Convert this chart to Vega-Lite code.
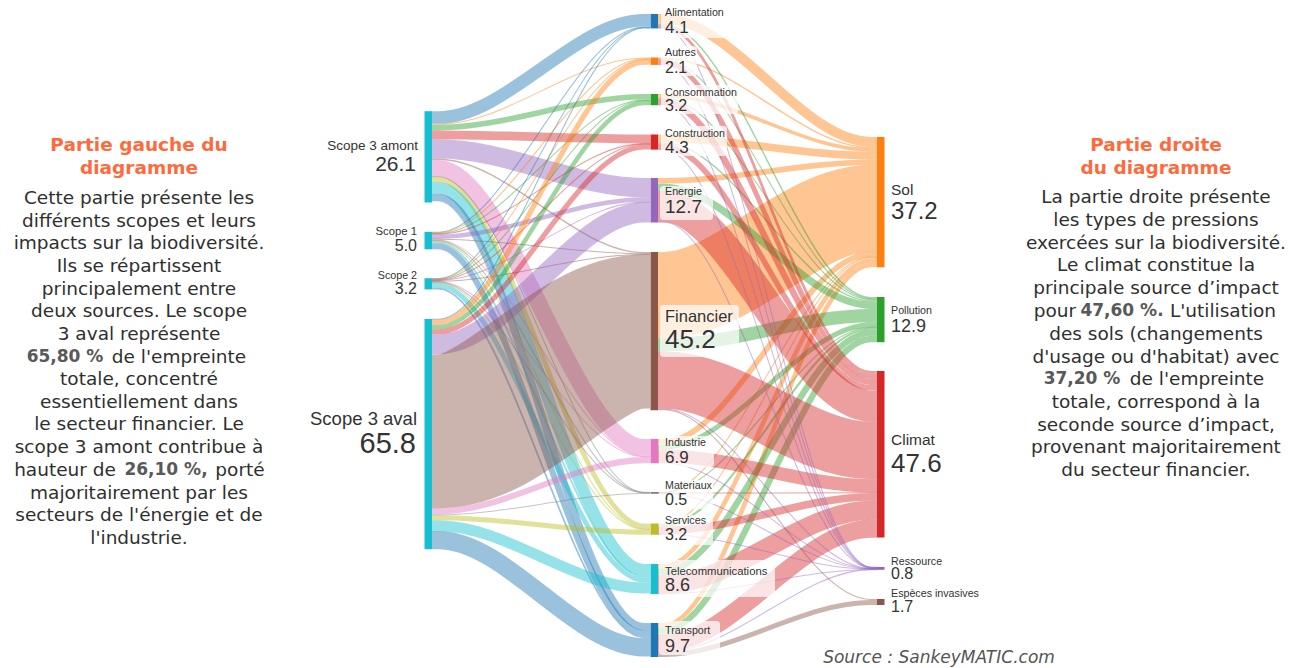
{"$schema":"https://vega.github.io/schema/vega-lite/v6.json","width":1300,"height":668,"padding":0,"autosize":"none","background":"white","config":{"view":{"stroke":null}},
"datasets":{
"links":[
{"s":"Amont","t":"Alim","v":3.6,"x":432,"y":117.5},{"s":"Amont","t":"Alim","v":3.6,"x":438,"y":117.5},{"s":"Amont","t":"Alim","v":3.6,"x":644,"y":20.3},{"s":"Amont","t":"Alim","v":3.6,"x":650,"y":20.3},
{"s":"Amont","t":"Autres","v":0.3,"x":432,"y":124.3},{"s":"Amont","t":"Autres","v":0.3,"x":438,"y":124.3},{"s":"Amont","t":"Autres","v":0.3,"x":644,"y":58},{"s":"Amont","t":"Autres","v":0.3,"x":650,"y":58},
{"s":"Amont","t":"Conso","v":1.6,"x":432,"y":127.6},{"s":"Amont","t":"Conso","v":1.6,"x":438,"y":127.6},{"s":"Amont","t":"Conso","v":1.6,"x":644,"y":96.8},{"s":"Amont","t":"Conso","v":1.6,"x":650,"y":96.8},
{"s":"Amont","t":"Constr","v":2.5,"x":432,"y":134.8},{"s":"Amont","t":"Constr","v":2.5,"x":438,"y":134.8},{"s":"Amont","t":"Constr","v":2.5,"x":644,"y":138.9},{"s":"Amont","t":"Constr","v":2.5,"x":650,"y":138.9},
{"s":"Amont","t":"Energie","v":5.5,"x":432,"y":148.8},{"s":"Amont","t":"Energie","v":5.5,"x":438,"y":148.8},{"s":"Amont","t":"Energie","v":5.5,"x":644,"y":187.6},{"s":"Amont","t":"Energie","v":5.5,"x":650,"y":187.6},
{"s":"Amont","t":"Fin","v":0.4,"x":432,"y":159.2},{"s":"Amont","t":"Fin","v":0.4,"x":438,"y":159.2},{"s":"Amont","t":"Fin","v":0.4,"x":644,"y":252.7},{"s":"Amont","t":"Fin","v":0.4,"x":650,"y":252.7},
{"s":"Amont","t":"Indus","v":4.8,"x":432,"y":168.3},{"s":"Amont","t":"Indus","v":4.8,"x":438,"y":168.3},{"s":"Amont","t":"Indus","v":4.8,"x":644,"y":447.4},{"s":"Amont","t":"Indus","v":4.8,"x":650,"y":447.4},
{"s":"Amont","t":"Mat","v":0.3,"x":432,"y":176.8},{"s":"Amont","t":"Mat","v":0.3,"x":438,"y":176.8},{"s":"Amont","t":"Mat","v":0.3,"x":644,"y":492.2},{"s":"Amont","t":"Mat","v":0.3,"x":650,"y":492.2},
{"s":"Amont","t":"Serv","v":1.4,"x":432,"y":179.5},{"s":"Amont","t":"Serv","v":1.4,"x":438,"y":179.5},{"s":"Amont","t":"Serv","v":1.4,"x":644,"y":526},{"s":"Amont","t":"Serv","v":1.4,"x":650,"y":526},
{"s":"Amont","t":"Tele","v":3.4,"x":432,"y":187.9},{"s":"Amont","t":"Tele","v":3.4,"x":438,"y":187.9},{"s":"Amont","t":"Tele","v":3.4,"x":644,"y":570},{"s":"Amont","t":"Tele","v":3.4,"x":650,"y":570},
{"s":"Amont","t":"Trans","v":2.1,"x":432,"y":197.5},{"s":"Amont","t":"Trans","v":2.1,"x":438,"y":197.5},{"s":"Amont","t":"Trans","v":2.1,"x":644,"y":626.7},{"s":"Amont","t":"Trans","v":2.1,"x":650,"y":626.7},
{"s":"S1","t":"Alim","v":0.3,"x":432,"y":232.2},{"s":"S1","t":"Alim","v":0.3,"x":438,"y":232.2},{"s":"S1","t":"Alim","v":0.3,"x":644,"y":27},{"s":"S1","t":"Alim","v":0.3,"x":650,"y":27},
{"s":"S1","t":"Autres","v":0.3,"x":432,"y":232.8},{"s":"S1","t":"Autres","v":0.3,"x":438,"y":232.8},{"s":"S1","t":"Autres","v":0.3,"x":644,"y":58.8},{"s":"S1","t":"Autres","v":0.3,"x":650,"y":58.8},
{"s":"S1","t":"Conso","v":0.3,"x":432,"y":233.4},{"s":"S1","t":"Conso","v":0.3,"x":438,"y":233.4},{"s":"S1","t":"Conso","v":0.3,"x":644,"y":100},{"s":"S1","t":"Conso","v":0.3,"x":650,"y":100},
{"s":"S1","t":"Constr","v":0.3,"x":432,"y":234.1},{"s":"S1","t":"Constr","v":0.3,"x":438,"y":234.1},{"s":"S1","t":"Constr","v":0.3,"x":644,"y":143.6},{"s":"S1","t":"Constr","v":0.3,"x":650,"y":143.6},
{"s":"S1","t":"Energie","v":1.3,"x":432,"y":236.7},{"s":"S1","t":"Energie","v":1.3,"x":438,"y":236.7},{"s":"S1","t":"Energie","v":1.3,"x":644,"y":199.5},{"s":"S1","t":"Energie","v":1.3,"x":650,"y":199.5},
{"s":"S1","t":"Fin","v":0.3,"x":432,"y":239.3},{"s":"S1","t":"Fin","v":0.3,"x":438,"y":239.3},{"s":"S1","t":"Fin","v":0.3,"x":644,"y":253.8},{"s":"S1","t":"Fin","v":0.3,"x":650,"y":253.8},
{"s":"S1","t":"Indus","v":0.3,"x":432,"y":240},{"s":"S1","t":"Indus","v":0.3,"x":438,"y":240},{"s":"S1","t":"Indus","v":0.3,"x":644,"y":456.2},{"s":"S1","t":"Indus","v":0.3,"x":650,"y":456.2},
{"s":"S1","t":"Mat","v":0.3,"x":432,"y":240.6},{"s":"S1","t":"Mat","v":0.3,"x":438,"y":240.6},{"s":"S1","t":"Mat","v":0.3,"x":644,"y":492.5},{"s":"S1","t":"Mat","v":0.3,"x":650,"y":492.5},
{"s":"S1","t":"Serv","v":0.3,"x":432,"y":241.1},{"s":"S1","t":"Serv","v":0.3,"x":438,"y":241.1},{"s":"S1","t":"Serv","v":0.3,"x":644,"y":528.8},{"s":"S1","t":"Serv","v":0.3,"x":650,"y":528.8},
{"s":"S1","t":"Tele","v":0.5,"x":432,"y":242.3},{"s":"S1","t":"Tele","v":0.5,"x":438,"y":242.3},{"s":"S1","t":"Tele","v":0.5,"x":644,"y":576.8},{"s":"S1","t":"Tele","v":0.5,"x":650,"y":576.8},
{"s":"S1","t":"Trans","v":1.75,"x":432,"y":246.3},{"s":"S1","t":"Trans","v":1.75,"x":438,"y":246.3},{"s":"S1","t":"Trans","v":1.75,"x":644,"y":633.4},{"s":"S1","t":"Trans","v":1.75,"x":650,"y":633.4},
{"s":"S2","t":"Alim","v":0.3,"x":432,"y":278.5},{"s":"S2","t":"Alim","v":0.3,"x":438,"y":278.5},{"s":"S2","t":"Alim","v":0.3,"x":644,"y":27.6},{"s":"S2","t":"Alim","v":0.3,"x":650,"y":27.6},
{"s":"S2","t":"Autres","v":0.3,"x":432,"y":279},{"s":"S2","t":"Autres","v":0.3,"x":438,"y":279},{"s":"S2","t":"Autres","v":0.3,"x":644,"y":59.4},{"s":"S2","t":"Autres","v":0.3,"x":650,"y":59.4},
{"s":"S2","t":"Conso","v":0.3,"x":432,"y":279.5},{"s":"S2","t":"Conso","v":0.3,"x":438,"y":279.5},{"s":"S2","t":"Conso","v":0.3,"x":644,"y":100.6},{"s":"S2","t":"Conso","v":0.3,"x":650,"y":100.6},
{"s":"S2","t":"Constr","v":0.3,"x":432,"y":280.1},{"s":"S2","t":"Constr","v":0.3,"x":438,"y":280.1},{"s":"S2","t":"Constr","v":0.3,"x":644,"y":144.2},{"s":"S2","t":"Constr","v":0.3,"x":650,"y":144.2},
{"s":"S2","t":"Energie","v":0.3,"x":432,"y":280.6},{"s":"S2","t":"Energie","v":0.3,"x":438,"y":280.6},{"s":"S2","t":"Energie","v":0.3,"x":644,"y":202.1},{"s":"S2","t":"Energie","v":0.3,"x":650,"y":202.1},
{"s":"S2","t":"Fin","v":0.3,"x":432,"y":281.1},{"s":"S2","t":"Fin","v":0.3,"x":438,"y":281.1},{"s":"S2","t":"Fin","v":0.3,"x":644,"y":254.4},{"s":"S2","t":"Fin","v":0.3,"x":650,"y":254.4},
{"s":"S2","t":"Indus","v":0.3,"x":432,"y":281.6},{"s":"S2","t":"Indus","v":0.3,"x":438,"y":281.6},{"s":"S2","t":"Indus","v":0.3,"x":644,"y":456.8},{"s":"S2","t":"Indus","v":0.3,"x":650,"y":456.8},
{"s":"S2","t":"Mat","v":0.3,"x":432,"y":282.1},{"s":"S2","t":"Mat","v":0.3,"x":438,"y":282.1},{"s":"S2","t":"Mat","v":0.3,"x":644,"y":492.9},{"s":"S2","t":"Mat","v":0.3,"x":650,"y":492.9},
{"s":"S2","t":"Serv","v":0.3,"x":432,"y":282.5},{"s":"S2","t":"Serv","v":0.3,"x":438,"y":282.5},{"s":"S2","t":"Serv","v":0.3,"x":644,"y":529.4},{"s":"S2","t":"Serv","v":0.3,"x":650,"y":529.4},
{"s":"S2","t":"Tele","v":1.4,"x":432,"y":285.2},{"s":"S2","t":"Tele","v":1.4,"x":438,"y":285.2},{"s":"S2","t":"Tele","v":1.4,"x":644,"y":580.1},{"s":"S2","t":"Tele","v":1.4,"x":650,"y":580.1},
{"s":"S2","t":"Trans","v":0.5,"x":432,"y":288.5},{"s":"S2","t":"Trans","v":0.5,"x":438,"y":288.5},{"s":"S2","t":"Trans","v":0.5,"x":644,"y":637.4},{"s":"S2","t":"Trans","v":0.5,"x":650,"y":637.4},
{"s":"Aval","t":"Alim","v":0.3,"x":432,"y":319.3},{"s":"Aval","t":"Alim","v":0.3,"x":438,"y":319.3},{"s":"Aval","t":"Alim","v":0.3,"x":644,"y":28.1},{"s":"Aval","t":"Alim","v":0.3,"x":650,"y":28.1},
{"s":"Aval","t":"Autres","v":1.5,"x":432,"y":322.2},{"s":"Aval","t":"Autres","v":1.5,"x":438,"y":322.2},{"s":"Aval","t":"Autres","v":1.5,"x":644,"y":62.2},{"s":"Aval","t":"Autres","v":1.5,"x":650,"y":62.2},
{"s":"Aval","t":"Conso","v":1.25,"x":432,"y":327},{"s":"Aval","t":"Conso","v":1.25,"x":438,"y":327},{"s":"Aval","t":"Conso","v":1.25,"x":644,"y":103},{"s":"Aval","t":"Conso","v":1.25,"x":650,"y":103},
{"s":"Aval","t":"Constr","v":1.45,"x":432,"y":331.7},{"s":"Aval","t":"Constr","v":1.45,"x":438,"y":331.7},{"s":"Aval","t":"Constr","v":1.45,"x":644,"y":147},{"s":"Aval","t":"Constr","v":1.45,"x":650,"y":147},
{"s":"Aval","t":"Energie","v":5.75,"x":432,"y":344.3},{"s":"Aval","t":"Energie","v":5.75,"x":438,"y":344.3},{"s":"Aval","t":"Energie","v":5.75,"x":644,"y":212.4},{"s":"Aval","t":"Energie","v":5.75,"x":650,"y":212.4},
{"s":"Aval","t":"Fin","v":44,"x":432,"y":431.4},{"s":"Aval","t":"Fin","v":44,"x":438,"y":431.4},{"s":"Aval","t":"Fin","v":44,"x":644,"y":331.6},{"s":"Aval","t":"Fin","v":44,"x":650,"y":331.6},
{"s":"Aval","t":"Indus","v":1.75,"x":432,"y":511.4},{"s":"Aval","t":"Indus","v":1.75,"x":438,"y":511.4},{"s":"Aval","t":"Indus","v":1.75,"x":644,"y":460.1},{"s":"Aval","t":"Indus","v":1.75,"x":650,"y":460.1},
{"s":"Aval","t":"Mat","v":0.3,"x":432,"y":514.9},{"s":"Aval","t":"Mat","v":0.3,"x":438,"y":514.9},{"s":"Aval","t":"Mat","v":0.3,"x":644,"y":493.4},{"s":"Aval","t":"Mat","v":0.3,"x":650,"y":493.4},
{"s":"Aval","t":"Serv","v":1.45,"x":432,"y":517.7},{"s":"Aval","t":"Serv","v":1.45,"x":438,"y":517.7},{"s":"Aval","t":"Serv","v":1.45,"x":644,"y":532.2},{"s":"Aval","t":"Serv","v":1.45,"x":650,"y":532.2},
{"s":"Aval","t":"Tele","v":3.1,"x":432,"y":525.7},{"s":"Aval","t":"Tele","v":3.1,"x":438,"y":525.7},{"s":"Aval","t":"Tele","v":3.1,"x":644,"y":588},{"s":"Aval","t":"Tele","v":3.1,"x":650,"y":588},
{"s":"Aval","t":"Trans","v":5.2,"x":432,"y":540.2},{"s":"Aval","t":"Trans","v":5.2,"x":438,"y":540.2},{"s":"Aval","t":"Trans","v":5.2,"x":644,"y":647.3},{"s":"Aval","t":"Trans","v":5.2,"x":650,"y":647.3},
{"s":"Alim","t":"Sol","v":2.8,"x":658,"y":18.9},{"s":"Alim","t":"Sol","v":2.8,"x":664,"y":18.9},{"s":"Alim","t":"Sol","v":2.8,"x":871,"y":141.9},{"s":"Alim","t":"Sol","v":2.8,"x":877,"y":141.9},
{"s":"Autres","t":"Sol","v":0.4,"x":658,"y":58.2},{"s":"Autres","t":"Sol","v":0.4,"x":664,"y":58.2},{"s":"Autres","t":"Sol","v":0.4,"x":871,"y":147.5},{"s":"Autres","t":"Sol","v":0.4,"x":877,"y":147.5},
{"s":"Conso","t":"Sol","v":1,"x":658,"y":95.8},{"s":"Conso","t":"Sol","v":1,"x":664,"y":95.8},{"s":"Conso","t":"Sol","v":1,"x":871,"y":150},{"s":"Conso","t":"Sol","v":1,"x":877,"y":150},
{"s":"Constr","t":"Sol","v":2.2,"x":658,"y":138.4},{"s":"Constr","t":"Sol","v":2.2,"x":664,"y":138.4},{"s":"Constr","t":"Sol","v":2.2,"x":871,"y":155.6},{"s":"Constr","t":"Sol","v":2.2,"x":877,"y":155.6},
{"s":"Energie","t":"Sol","v":1.6,"x":658,"y":180.8},{"s":"Energie","t":"Sol","v":1.6,"x":664,"y":180.8},{"s":"Energie","t":"Sol","v":1.6,"x":871,"y":162.2},{"s":"Energie","t":"Sol","v":1.6,"x":877,"y":162.2},
{"s":"Fin","t":"Sol","v":24.6,"x":658,"y":295.1},{"s":"Fin","t":"Sol","v":24.6,"x":664,"y":295.1},{"s":"Fin","t":"Sol","v":24.6,"x":871,"y":208.1},{"s":"Fin","t":"Sol","v":24.6,"x":877,"y":208.1},
{"s":"Indus","t":"Sol","v":1.6,"x":658,"y":441.8},{"s":"Indus","t":"Sol","v":1.6,"x":664,"y":441.8},{"s":"Indus","t":"Sol","v":1.6,"x":871,"y":253.9},{"s":"Indus","t":"Sol","v":1.6,"x":877,"y":253.9},
{"s":"Mat","t":"Sol","v":0.3,"x":658,"y":492.2},{"s":"Mat","t":"Sol","v":0.3,"x":664,"y":492.2},{"s":"Mat","t":"Sol","v":0.3,"x":871,"y":256.9},{"s":"Mat","t":"Sol","v":0.3,"x":877,"y":256.9},
{"s":"Serv","t":"Sol","v":0.3,"x":658,"y":524},{"s":"Serv","t":"Sol","v":0.3,"x":664,"y":524},{"s":"Serv","t":"Sol","v":0.3,"x":871,"y":257.6},{"s":"Serv","t":"Sol","v":0.3,"x":877,"y":257.6},
{"s":"Tele","t":"Sol","v":1.3,"x":658,"y":566.3},{"s":"Tele","t":"Sol","v":1.3,"x":664,"y":566.3},{"s":"Tele","t":"Sol","v":1.3,"x":871,"y":260.4},{"s":"Tele","t":"Sol","v":1.3,"x":877,"y":260.4},
{"s":"Trans","t":"Sol","v":1.3,"x":658,"y":625.3},{"s":"Trans","t":"Sol","v":1.3,"x":664,"y":625.3},{"s":"Trans","t":"Sol","v":1.3,"x":871,"y":264.9},{"s":"Trans","t":"Sol","v":1.3,"x":877,"y":264.9},
{"s":"Alim","t":"Poll","v":0.4,"x":658,"y":24.5},{"s":"Alim","t":"Poll","v":0.4,"x":664,"y":24.5},{"s":"Alim","t":"Poll","v":0.4,"x":871,"y":297.7},{"s":"Alim","t":"Poll","v":0.4,"x":877,"y":297.7},
{"s":"Autres","t":"Poll","v":0.3,"x":658,"y":59.3},{"s":"Autres","t":"Poll","v":0.3,"x":664,"y":59.3},{"s":"Autres","t":"Poll","v":0.3,"x":871,"y":298.8},{"s":"Autres","t":"Poll","v":0.3,"x":877,"y":298.8},
{"s":"Conso","t":"Poll","v":0.3,"x":658,"y":98},{"s":"Conso","t":"Poll","v":0.3,"x":664,"y":98},{"s":"Conso","t":"Poll","v":0.3,"x":871,"y":299.6},{"s":"Conso","t":"Poll","v":0.3,"x":877,"y":299.6},
{"s":"Constr","t":"Poll","v":0.4,"x":658,"y":142.9},{"s":"Constr","t":"Poll","v":0.4,"x":664,"y":142.9},{"s":"Constr","t":"Poll","v":0.4,"x":871,"y":300.9},{"s":"Constr","t":"Poll","v":0.4,"x":877,"y":300.9},
{"s":"Energie","t":"Poll","v":2.1,"x":658,"y":187.3},{"s":"Energie","t":"Poll","v":2.1,"x":664,"y":187.3},{"s":"Energie","t":"Poll","v":2.1,"x":871,"y":305.2},{"s":"Energie","t":"Poll","v":2.1,"x":877,"y":305.2},
{"s":"Fin","t":"Poll","v":3.8,"x":658,"y":344.8},{"s":"Fin","t":"Poll","v":3.8,"x":664,"y":344.8},{"s":"Fin","t":"Poll","v":3.8,"x":871,"y":315.6},{"s":"Fin","t":"Poll","v":3.8,"x":877,"y":315.6},
{"s":"Indus","t":"Poll","v":1.4,"x":658,"y":447.1},{"s":"Indus","t":"Poll","v":1.4,"x":664,"y":447.1},{"s":"Indus","t":"Poll","v":1.4,"x":871,"y":324.7},{"s":"Indus","t":"Poll","v":1.4,"x":877,"y":324.7},
{"s":"Mat","t":"Poll","v":0.3,"x":658,"y":492.5},{"s":"Mat","t":"Poll","v":0.3,"x":664,"y":492.5},{"s":"Mat","t":"Poll","v":0.3,"x":871,"y":327.3},{"s":"Mat","t":"Poll","v":0.3,"x":877,"y":327.3},
{"s":"Serv","t":"Poll","v":0.6,"x":658,"y":525.6},{"s":"Serv","t":"Poll","v":0.6,"x":664,"y":525.6},{"s":"Serv","t":"Poll","v":0.6,"x":871,"y":328.5},{"s":"Serv","t":"Poll","v":0.6,"x":877,"y":328.5},
{"s":"Tele","t":"Poll","v":1.8,"x":658,"y":571.7},{"s":"Tele","t":"Poll","v":1.8,"x":664,"y":571.7},{"s":"Tele","t":"Poll","v":1.8,"x":871,"y":332.7},{"s":"Tele","t":"Poll","v":1.8,"x":877,"y":332.7},
{"s":"Trans","t":"Poll","v":1.8,"x":658,"y":630.7},{"s":"Trans","t":"Poll","v":1.8,"x":664,"y":630.7},{"s":"Trans","t":"Poll","v":1.8,"x":871,"y":339},{"s":"Trans","t":"Poll","v":1.8,"x":877,"y":339},
{"s":"Alim","t":"Clim","v":0.8,"x":658,"y":26.6},{"s":"Alim","t":"Clim","v":0.8,"x":664,"y":26.6},{"s":"Alim","t":"Clim","v":0.8,"x":871,"y":372.4},{"s":"Alim","t":"Clim","v":0.8,"x":877,"y":372.4},
{"s":"Autres","t":"Clim","v":1.4,"x":658,"y":62.1},{"s":"Autres","t":"Clim","v":1.4,"x":664,"y":62.1},{"s":"Autres","t":"Clim","v":1.4,"x":871,"y":376.3},{"s":"Autres","t":"Clim","v":1.4,"x":877,"y":376.3},
{"s":"Conso","t":"Clim","v":1.8,"x":658,"y":101.7},{"s":"Conso","t":"Clim","v":1.8,"x":664,"y":101.7},{"s":"Conso","t":"Clim","v":1.8,"x":871,"y":381.9},{"s":"Conso","t":"Clim","v":1.8,"x":877,"y":381.9},
{"s":"Constr","t":"Clim","v":1.6,"x":658,"y":146.4},{"s":"Constr","t":"Clim","v":1.6,"x":664,"y":146.4},{"s":"Constr","t":"Clim","v":1.6,"x":871,"y":387.8},{"s":"Constr","t":"Clim","v":1.6,"x":877,"y":387.8},
{"s":"Energie","t":"Clim","v":8.9,"x":658,"y":206.5},{"s":"Energie","t":"Clim","v":8.9,"x":664,"y":206.5},{"s":"Energie","t":"Clim","v":8.9,"x":871,"y":406.2},{"s":"Energie","t":"Clim","v":8.9,"x":877,"y":406.2},
{"s":"Fin","t":"Clim","v":16.4,"x":658,"y":380.1},{"s":"Fin","t":"Clim","v":16.4,"x":664,"y":380.1},{"s":"Fin","t":"Clim","v":16.4,"x":871,"y":450.5},{"s":"Fin","t":"Clim","v":16.4,"x":877,"y":450.5},
{"s":"Indus","t":"Clim","v":3.8,"x":658,"y":456.2},{"s":"Indus","t":"Clim","v":3.8,"x":664,"y":456.2},{"s":"Indus","t":"Clim","v":3.8,"x":871,"y":485.8},{"s":"Indus","t":"Clim","v":3.8,"x":877,"y":485.8},
{"s":"Mat","t":"Clim","v":0.3,"x":658,"y":493},{"s":"Mat","t":"Clim","v":0.3,"x":664,"y":493},{"s":"Mat","t":"Clim","v":0.3,"x":871,"y":492.8},{"s":"Mat","t":"Clim","v":0.3,"x":877,"y":492.8},
{"s":"Serv","t":"Clim","v":2.2,"x":658,"y":530.5},{"s":"Serv","t":"Clim","v":2.2,"x":664,"y":530.5},{"s":"Serv","t":"Clim","v":2.2,"x":871,"y":497},{"s":"Serv","t":"Clim","v":2.2,"x":877,"y":497},
{"s":"Tele","t":"Clim","v":5.4,"x":658,"y":584.3},{"s":"Tele","t":"Clim","v":5.4,"x":664,"y":584.3},{"s":"Tele","t":"Clim","v":5.4,"x":871,"y":510.3},{"s":"Tele","t":"Clim","v":5.4,"x":877,"y":510.3},
{"s":"Trans","t":"Clim","v":5.1,"x":658,"y":642.8},{"s":"Trans","t":"Clim","v":5.1,"x":664,"y":642.8},{"s":"Trans","t":"Clim","v":5.1,"x":871,"y":528.7},{"s":"Trans","t":"Clim","v":5.1,"x":877,"y":528.7},
{"s":"Alim","t":"Res","v":0.3,"x":658,"y":28.2},{"s":"Alim","t":"Res","v":0.3,"x":664,"y":28.2},{"s":"Alim","t":"Res","v":0.3,"x":871,"y":567.1},{"s":"Alim","t":"Res","v":0.3,"x":877,"y":567.1},
{"s":"Autres","t":"Res","v":0.3,"x":658,"y":64.7},{"s":"Autres","t":"Res","v":0.3,"x":664,"y":64.7},{"s":"Autres","t":"Res","v":0.3,"x":871,"y":567.4},{"s":"Autres","t":"Res","v":0.3,"x":877,"y":567.4},
{"s":"Conso","t":"Res","v":0.3,"x":658,"y":105},{"s":"Conso","t":"Res","v":0.3,"x":664,"y":105},{"s":"Conso","t":"Res","v":0.3,"x":871,"y":567.6},{"s":"Conso","t":"Res","v":0.3,"x":877,"y":567.6},
{"s":"Constr","t":"Res","v":0.3,"x":658,"y":149.4},{"s":"Constr","t":"Res","v":0.3,"x":664,"y":149.4},{"s":"Constr","t":"Res","v":0.3,"x":871,"y":567.9},{"s":"Constr","t":"Res","v":0.3,"x":877,"y":567.9},
{"s":"Energie","t":"Res","v":0.3,"x":658,"y":222.3},{"s":"Energie","t":"Res","v":0.3,"x":664,"y":222.3},{"s":"Energie","t":"Res","v":0.3,"x":871,"y":568.1},{"s":"Energie","t":"Res","v":0.3,"x":877,"y":568.1},
{"s":"Fin","t":"Res","v":0.3,"x":658,"y":409},{"s":"Fin","t":"Res","v":0.3,"x":664,"y":409},{"s":"Fin","t":"Res","v":0.3,"x":871,"y":568.4},{"s":"Fin","t":"Res","v":0.3,"x":877,"y":568.4},
{"s":"Indus","t":"Res","v":0.3,"x":658,"y":463},{"s":"Indus","t":"Res","v":0.3,"x":664,"y":463},{"s":"Indus","t":"Res","v":0.3,"x":871,"y":568.6},{"s":"Indus","t":"Res","v":0.3,"x":877,"y":568.6},
{"s":"Mat","t":"Res","v":0.3,"x":658,"y":493.5},{"s":"Mat","t":"Res","v":0.3,"x":664,"y":493.5},{"s":"Mat","t":"Res","v":0.3,"x":871,"y":568.9},{"s":"Mat","t":"Res","v":0.3,"x":877,"y":568.9},
{"s":"Serv","t":"Res","v":0.3,"x":658,"y":534.5},{"s":"Serv","t":"Res","v":0.3,"x":664,"y":534.5},{"s":"Serv","t":"Res","v":0.3,"x":871,"y":569.1},{"s":"Serv","t":"Res","v":0.3,"x":877,"y":569.1},
{"s":"Tele","t":"Res","v":0.3,"x":658,"y":593.9},{"s":"Tele","t":"Res","v":0.3,"x":664,"y":593.9},{"s":"Tele","t":"Res","v":0.3,"x":871,"y":569.4},{"s":"Tele","t":"Res","v":0.3,"x":877,"y":569.4},
{"s":"Trans","t":"Res","v":0.3,"x":658,"y":651.9},{"s":"Trans","t":"Res","v":0.3,"x":664,"y":651.9},{"s":"Trans","t":"Res","v":0.3,"x":871,"y":569.6},{"s":"Trans","t":"Res","v":0.3,"x":877,"y":569.6},
{"s":"Fin","t":"Esp","v":0.3,"x":658,"y":409.7},{"s":"Fin","t":"Esp","v":0.3,"x":664,"y":409.7},{"s":"Fin","t":"Esp","v":0.3,"x":871,"y":599.5},{"s":"Fin","t":"Esp","v":0.3,"x":877,"y":599.5},
{"s":"Trans","t":"Esp","v":1.4,"x":658,"y":654.5},{"s":"Trans","t":"Esp","v":1.4,"x":664,"y":654.5},{"s":"Trans","t":"Esp","v":1.4,"x":871,"y":602.5},{"s":"Trans","t":"Esp","v":1.4,"x":877,"y":602.5}
],
"nodes":[
{"t":"Amont","x":424.5,"x2":432,"y":111.2,"y2":202.5},{"t":"S1","x":424.5,"x2":432,"y":231.8,"y2":249.3},{"t":"S2","x":424.5,"x2":432,"y":278.2,"y2":289.4},{"t":"Aval","x":424.5,"x2":432,"y":319,"y2":549.3},
{"t":"Alim","x":650.5,"x2":658,"y":14,"y2":28.4},{"t":"Autres","x":650.5,"x2":658,"y":57.5,"y2":64.9},{"t":"Conso","x":650.5,"x2":658,"y":94,"y2":105.2},{"t":"Constr","x":650.5,"x2":658,"y":134.5,"y2":149.6},{"t":"Energie","x":650.5,"x2":658,"y":178,"y2":222.5},{"t":"Fin","x":650.5,"x2":658,"y":252,"y2":410.2},{"t":"Indus","x":650.5,"x2":658,"y":439,"y2":463.2},{"t":"Mat","x":650.5,"x2":658,"y":492,"y2":493.8},{"t":"Serv","x":650.5,"x2":658,"y":523.5,"y2":534.7},{"t":"Tele","x":650.5,"x2":658,"y":564,"y2":594.1},{"t":"Trans","x":650.5,"x2":658,"y":623,"y2":657},
{"t":"Sol","x":877,"x2":884.5,"y":137,"y2":267.2},{"t":"Poll","x":877,"x2":884.5,"y":297,"y2":342.2},{"t":"Clim","x":877,"x2":884.5,"y":371,"y2":537.6},{"t":"Res","x":877,"x2":884.5,"y":567,"y2":569.8},{"t":"Esp","x":877,"x2":884.5,"y":599,"y2":605}
],
"boxes":[
{"n":"Alimentation","x":661,"x2":727,"y":3,"y2":38},{"n":"Autres","x":661,"x2":697,"y":46,"y2":76},{"n":"Consommation","x":661,"x2":738,"y":85,"y2":114},{"n":"Construction","x":661,"x2":727,"y":126,"y2":156},{"n":"Energie","x":660,"x2":713,"y":186,"y2":220},{"n":"Financier","x":660,"x2":739,"y":305,"y2":357},{"n":"Industrie","x":659,"x2":714,"y":436,"y2":467},{"n":"Materiaux","x":659,"x2":713,"y":480,"y2":509},{"n":"Services","x":659,"x2":713,"y":515,"y2":545},{"n":"Telecommunications","x":659,"x2":775,"y":560,"y2":597},{"n":"Transport","x":659,"x2":720,"y":621,"y2":655}
],
"labelsLeft":[
{"t":"Scope 3 amont","x":418,"y":150,"f":"c"},{"t":"26.1","x":416,"y":171,"f":"i"},{"t":"Scope 1","x":417,"y":235,"f":"b"},{"t":"5.0","x":417,"y":251,"f":"e"},{"t":"Scope 2","x":417,"y":279,"f":"a"},{"t":"3.2","x":417,"y":294,"f":"e"},{"t":"Scope 3 aval","x":417,"y":425,"f":"m"},{"t":"65.8","x":416,"y":453,"f":"l"}
],
"labelsRight":[
{"t":"Alimentation","x":665,"y":16,"f":"a"},{"t":"4.1","x":665,"y":33,"f":"f"},{"t":"Autres","x":665,"y":56,"f":"a"},{"t":"2.1","x":665,"y":73,"f":"e"},{"t":"Consommation","x":665,"y":95.5,"f":"a"},{"t":"3.2","x":665,"y":110.5,"f":"e"},{"t":"Construction","x":665,"y":137,"f":"a"},{"t":"4.3","x":665,"y":152.5,"f":"f"},{"t":"Energie","x":665,"y":195,"f":"a"},{"t":"12.7","x":665,"y":212.7,"f":"h"},{"t":"Financier","x":665,"y":322,"f":"n"},{"t":"45.2","x":665,"y":347.5,"f":"k"},{"t":"Industrie","x":665,"y":445.7,"f":"a"},{"t":"6.9","x":665,"y":462.7,"f":"f"},{"t":"Materiaux","x":665,"y":489,"f":"a"},{"t":"0.5","x":665,"y":505,"f":"e"},{"t":"Services","x":665,"y":524,"f":"a"},{"t":"3.2","x":665,"y":540,"f":"e"},{"t":"Telecommunications","x":665,"y":575,"f":"b"},{"t":"8.6","x":665,"y":590.7,"f":"g"},{"t":"Transport","x":665,"y":634.3,"f":"a"},{"t":"9.7","x":665,"y":652.3,"f":"g"},
{"t":"Sol","x":891,"y":195,"f":"d"},{"t":"37.2","x":891,"y":219,"f":"j"},{"t":"Pollution","x":891,"y":314,"f":"a"},{"t":"12.9","x":891,"y":332,"f":"g"},{"t":"Climat","x":891,"y":445,"f":"d"},{"t":"47.6","x":891,"y":472,"f":"k"},{"t":"Ressource","x":891,"y":565,"f":"a"},{"t":"0.8","x":891,"y":579,"f":"e"},{"t":"Espèces invasives","x":891,"y":597,"f":"a"},{"t":"1.7","x":891,"y":612,"f":"e"}
],
"body":[
{"t":"Cette partie présente les","x":139,"y":198},{"t":"différents scopes et leurs","x":139,"y":221},{"t":"impacts sur la biodiversité.","x":139,"y":243},{"t":"Ils se répartissent","x":139,"y":266},{"t":"principalement entre","x":139,"y":289},{"t":"deux sources. Le scope","x":139,"y":311},{"t":"3 aval représente","x":139,"y":334},{"t":"de l'empreinte","x":179,"y":357},{"t":"totale, concentré","x":139,"y":379},{"t":"essentiellement dans","x":139,"y":402},{"t":"le secteur financier. Le","x":139,"y":424},{"t":"scope 3 amont contribue à","x":139,"y":447},{"t":"hauteur de","x":65,"y":470},{"t":"porté","x":240,"y":470},{"t":"majoritairement par les","x":139,"y":493},{"t":"secteurs de l'énergie et de","x":139,"y":515},{"t":"l'industrie.","x":139,"y":538},
{"t":"La partie droite présente","x":1156,"y":197},{"t":"les types de pressions","x":1156,"y":220},{"t":"exercées sur la biodiversité.","x":1156,"y":243},{"t":"Le climat constitue la","x":1156,"y":265},{"t":"principale source d’impact","x":1156,"y":288},{"t":"pour","x":1055,"y":311},{"t":"L'utilisation","x":1223,"y":311},{"t":"des sols (changements","x":1156,"y":334},{"t":"d'usage ou d'habitat) avec","x":1156,"y":357},{"t":"de l'empreinte","x":1197,"y":379},{"t":"totale, correspond à la","x":1156,"y":402},{"t":"seconde source d’impact,","x":1156,"y":425},{"t":"provenant majoritairement","x":1156,"y":447},{"t":"du secteur financier.","x":1156,"y":470}
],
"bold":[
{"t":"65,80 %","x":65,"y":357},{"t":"26,10 %,","x":166,"y":470},{"t":"47,60 %.","x":1122,"y":311},{"t":"37,20 %","x":1082,"y":379}
],
"heads":[
{"t":"Partie gauche du","x":139,"y":145},{"t":"diagramme","x":139,"y":168},{"t":"Partie droite","x":1156,"y":145},{"t":"du diagramme","x":1156,"y":168}
],
"source":[{"t":"Source : SankeyMATIC.com","x":939,"y":658}]
},
"encoding":{"x":{"field":"x","type":"quantitative","scale":{"domain":[0,1300],"nice":false,"zero":false},"axis":null},"y":{"field":"y","type":"quantitative","scale":{"domain":[668,0],"nice":false,"zero":false},"axis":null}},
"resolve":{"scale":{"size":"independent"}},
"layer":[
{"data":{"name":"links"},"mark":{"type":"line","interpolate":"monotone","opacity":0.45,"strokeCap":"butt","strokeJoin":"round"},
"encoding":{"detail":[{"field":"s"},{"field":"t"}],"order":{"field":"x","type":"quantitative"},
"size":{"field":"v","type":"quantitative","scale":{"domain":[0,100],"range":[0,350],"zero":true},"legend":null},
"color":{"field":"t","type":"nominal","legend":null,"scale":{"domain":["Amont","S1","S2","Aval","Alim","Autres","Conso","Constr","Energie","Fin","Indus","Mat","Serv","Tele","Trans","Sol","Poll","Clim","Res","Esp"],"range":["#17becf","#17becf","#17becf","#17becf","#1f77b4","#ff7f0e","#2ca02c","#d62728","#9467bd","#8c564b","#e377c2","#7f7f7f","#bcbd22","#17becf","#1f77b4","#ff7f0e","#2ca02c","#d62728","#9467bd","#8c564b"]}}}},
{"data":{"name":"boxes"},"mark":{"type":"rect","fill":"white","opacity":0.72,"cornerRadius":3},"encoding":{"x2":{"field":"x2"},"y2":{"field":"y2"}}},
{"data":{"name":"nodes"},"mark":{"type":"rect"},"encoding":{"x2":{"field":"x2"},"y2":{"field":"y2"},"color":{"field":"t","type":"nominal","legend":null}}},
{"data":{"name":"labelsLeft"},"mark":{"type":"text","align":"right","baseline":"alphabetic","font":"Liberation Sans","fill":"#333333"},"encoding":{"text":{"field":"t"},"size":{"field":"f","type":"ordinal","legend":null,"scale":{"type":"ordinal","domain":["a","b","c","d","e","f","g","h","i","j","k","l","m","n"],"range":[10.7,11.3,13.5,15.5,16,17,18,19,21,24,26,29,18.5,16.5]}}}},
{"data":{"name":"labelsRight"},"mark":{"type":"text","align":"left","baseline":"alphabetic","font":"Liberation Sans","fill":"#333333"},"encoding":{"text":{"field":"t"},"size":{"field":"f","type":"ordinal","legend":null,"scale":{"type":"ordinal","domain":["a","b","c","d","e","f","g","h","i","j","k","l","m","n"],"range":[10.7,11.3,13.5,15.5,16,17,18,19,21,24,26,29,18.5,16.5]}}}},
{"data":{"name":"body"},"mark":{"type":"text","align":"center","baseline":"middle","font":"DejaVu Sans","fontSize":18.5,"fill":"#2f2f2f"},"encoding":{"text":{"field":"t"}}},
{"data":{"name":"bold"},"mark":{"type":"text","align":"center","baseline":"middle","font":"DejaVu Sans","fontSize":17,"fontWeight":"bold","fill":"#595959"},"encoding":{"text":{"field":"t"}}},
{"data":{"name":"heads"},"mark":{"type":"text","align":"center","baseline":"middle","font":"DejaVu Sans","fontSize":18.5,"fontWeight":"bold","fill":"#ff6a3c"},"encoding":{"text":{"field":"t"}}},
{"data":{"name":"source"},"mark":{"type":"text","align":"center","baseline":"middle","font":"DejaVu Sans","fontSize":17,"fontStyle":"italic","fill":"#555555"},"encoding":{"text":{"field":"t"}}}
]}
